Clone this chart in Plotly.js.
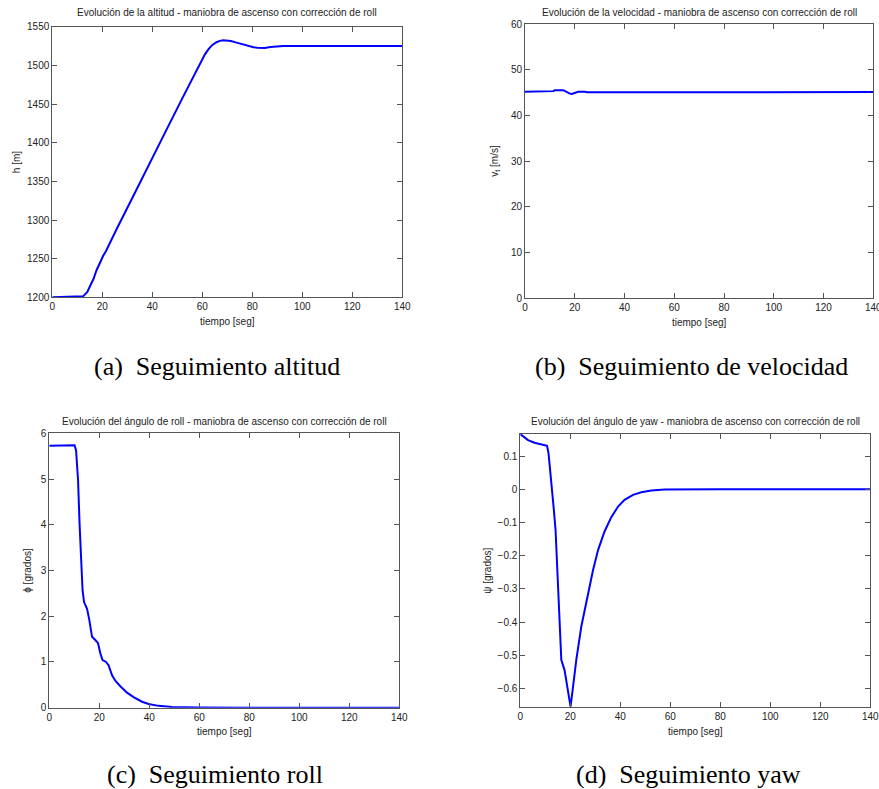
<!DOCTYPE html>
<html>
<head>
<meta charset="utf-8">
<script src="https://cdn.plot.ly/plotly-3.0.1.min.js"></script>
<style>html,body{margin:0;padding:0;background:#fff;}#chart{width:879px;height:789px;}</style>
</head>
<body>
<div id="chart"></div>
<script>
// ---- Data ----
const tAlt = [0, 5, 10, 12.4, 14, 15.1, 16.5, 17.7, 19, 20.4, 21.5, 23.1, 25.7, 32.4, 39.1, 45.7, 52.4, 57.7, 59.5, 61, 62.5, 64, 65.7, 67, 68.4, 70, 71.5, 73, 75.1, 77, 79.1, 80.5, 82, 83.5, 85, 87.2, 90, 92.5, 100, 110, 120, 130, 140];
const hAlt = [1200, 1200.5, 1201, 1201.5, 1207, 1214, 1224, 1235, 1245, 1254, 1260, 1270, 1288, 1331, 1375, 1417, 1460, 1494, 1505, 1514, 1521, 1526.5, 1530, 1531.8, 1532.5, 1532.3, 1531.5, 1530.2, 1528.2, 1526.5, 1524.8, 1523.6, 1522.8, 1522.4, 1522.7, 1523.8, 1524.7, 1525.2, 1525.3, 1525.2, 1525.2, 1525.2, 1525.2];

const tVel = [0, 5, 10, 11.4, 12, 15.4, 16.5, 17.8, 18.8, 20, 21.4, 24, 25, 30, 45, 60, 80, 100, 120, 140];
const vVel = [45.15, 45.15, 45.15, 45.3, 45.5, 45.5, 45.2, 44.8, 44.7, 44.95, 45.15, 45.15, 45.05, 45.05, 45.05, 45.1, 45.1, 45.1, 45.1, 45.1];

const tRoll = [0, 5, 10.1, 10.7, 11.5, 12.1, 12.7, 13.3, 13.9, 15.1, 16, 17.1, 18.4, 19.5, 20.4, 21.3, 22.7, 23.7, 25.1, 26.4, 28.4, 31.1, 33.7, 37.1, 39.7, 43.7, 49, 55, 60, 80, 100, 120, 140];
const phiRoll = [5.73, 5.74, 5.74, 5.63, 4.98, 4.03, 3.16, 2.57, 2.31, 2.16, 1.92, 1.55, 1.48, 1.41, 1.19, 1.04, 1.0, 0.93, 0.71, 0.59, 0.47, 0.33, 0.23, 0.13, 0.08, 0.04, 0.015, 0.005, 0.002, 0, 0, 0, 0];

const tYaw = [0, 3.1, 5.7, 8.4, 10.7, 11.3, 12.4, 13.3, 14.1, 14.8, 15.5, 16.4, 17.7, 19.1, 20.1, 21.1, 22.4, 24.4, 27.1, 29.1, 31.1, 33.7, 36.4, 39.1, 41.7, 45.1, 48.4, 52.4, 57.7, 65, 80, 100, 120, 140];
const psiYaw = [0.166, 0.148, 0.140, 0.134, 0.131, 0.108, 0.028, -0.052, -0.122, -0.243, -0.373, -0.513, -0.544, -0.604, -0.654, -0.594, -0.513, -0.413, -0.313, -0.243, -0.183, -0.127, -0.084, -0.052, -0.032, -0.017, -0.009, -0.004, -0.001, 0, 0, 0, 0, 0];

const titles = [
  'Evolución de la altitud - maniobra de ascenso con corrección de roll',
  'Evolución de la velocidad - maniobra de ascenso con corrección de roll',
  'Evolución del ángulo de roll - maniobra de ascenso con corrección de roll',
  'Evolución del ángulo de yaw - maniobra de ascenso con corrección de roll'
];
const yLabels = ['h [m]', 'v<sub>t</sub> [m/s]', 'ϕ [grados]', 'ψ [grados]'];
const xLabel = 'tiempo [seg]';
const captions = ['(a)  Seguimiento altitud', '(b)  Seguimiento de velocidad', '(c)  Seguimiento roll', '(d)  Seguimiento yaw'];

// ---- Layout helpers ----
const W = 879, H = 789;
const px = x => x / W;
const py = y => 1 - y / H;

// pixel boxes [left, top, right, bottom]
const boxes = [
  [52.3, 26.8, 402.3, 297.3],
  [525, 24, 873.3, 298],
  [49.3, 433.3, 399.3, 707.7],
  [520.3, 434.1, 870.3, 707.3]
];
const yRanges = [[1200, 1550], [0, 60], [0, 6], [-0.656, 0.166]];
const yDticks = [50, 10, 1, 0.1];
const yStandoffs = [4, 10, 7, 4];

const lineStyle = {color: '#0000ff', width: 2};
const traces = [
  {x: tAlt, y: hAlt, xaxis: 'x', yaxis: 'y'},
  {x: tVel, y: vVel, xaxis: 'x2', yaxis: 'y2'},
  {x: tRoll, y: phiRoll, xaxis: 'x3', yaxis: 'y3'},
  {x: tYaw, y: psiYaw, xaxis: 'x4', yaxis: 'y4'}
].map(t => Object.assign(t, {type: 'scatter', mode: 'lines', line: lineStyle, showlegend: false, hoverinfo: 'skip'}));

const tickFont = {family: 'Liberation Sans, Arial, sans-serif', size: 10, color: '#222'};
const axisCommon = {
  showline: true, mirror: 'ticks', ticks: 'inside', ticklen: 5, tickwidth: 1,
  linecolor: '#555', tickcolor: '#555', linewidth: 1,
  showgrid: false, zeroline: false, tickfont: tickFont, fixedrange: true,
  ticklabeloverflow: 'allow', automargin: false
};

const layout = {
  width: W, height: H,
  margin: {l: 0, r: 0, t: 0, b: 0},
  paper_bgcolor: '#fff', plot_bgcolor: '#fff',
  showlegend: false,
  annotations: []
};

boxes.forEach((b, i) => {
  const sfx = i === 0 ? '' : String(i + 1);
  layout['xaxis' + sfx] = Object.assign({}, axisCommon, {
    domain: [px(b[0]), px(b[2])],
    anchor: 'y' + sfx,
    range: [0, 140], tick0: 0, dtick: 20,
    title: {text: xLabel, font: tickFont, standoff: 6}
  });
  layout['yaxis' + sfx] = Object.assign({}, axisCommon, {
    domain: [py(b[3]), py(b[1])],
    anchor: 'x' + sfx,
    range: yRanges[i], dtick: yDticks[i], tick0: 0,
    title: {text: yLabels[i], font: tickFont, standoff: yStandoffs[i]}
  });
  // subplot title
  layout.annotations.push({
    text: titles[i], xref: 'paper', yref: 'paper',
    x: px((b[0] + b[2]) / 2), y: py(i < 2 ? 12 : 421.7),
    xanchor: 'center', yanchor: 'middle', showarrow: false,
    font: {family: 'Liberation Sans, Arial, sans-serif', size: 10, color: '#222'}
  });
});

const capPos = [[217, 366], [691, 366], [215, 774], [688, 774]];
captions.forEach((c, i) => {
  layout.annotations.push({
    text: c, xref: 'paper', yref: 'paper',
    x: px(capPos[i][0]), y: py(capPos[i][1]),
    xanchor: 'center', yanchor: 'middle', showarrow: false,
    font: {family: 'Liberation Serif, Times New Roman, serif', size: 26, color: '#000'}
  });
});

Plotly.newPlot('chart', traces, layout, {displayModeBar: false, staticPlot: true});
</script>
</body>
</html>
